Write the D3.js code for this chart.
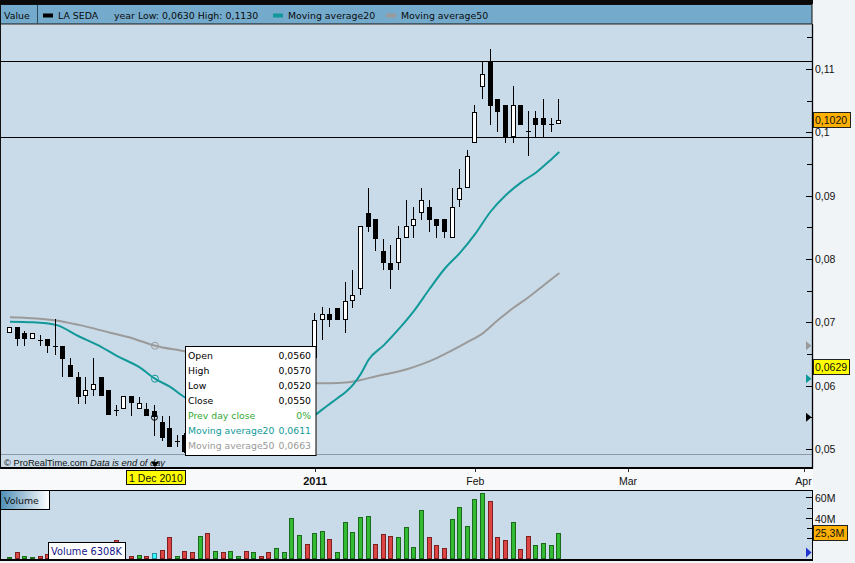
<!DOCTYPE html>
<html><head><meta charset="utf-8">
<script src="https://cdn.jsdelivr.net/npm/d3@7/dist/d3.min.js"></script>
<style>
body{margin:0;background:#f1f4f7;}
svg{display:block;}
.ax{font-family:"Liberation Sans",Arial,sans-serif;font-size:10.5px;fill:#111;}
.vd{font-family:"DejaVu Sans",Verdana,sans-serif;}
</style>
</head><body>
<svg id="c" width="855" height="563"></svg>
<script>
// ---------------- DATA ----------------
const opens  = [0.0683,0.0693,0.0683,0.0674,0.0672,0.0673,0.0663,0.0663,0.0633,0.0614,0.0584,0.0593,0.0614,0.0593,0.0562,0.0563,0.0583,0.0563,0.0563,0.0560,0.0542,0.0533,0.0512,
 0.0522,0.0500,0.0496,0.0518,0.0505,0.0514,0.0506,0.0517,0.0523,0.0514,0.0525,0.0518,0.0512,0.0527,0.0540,0.0592,0.0620,
 0.0644,0.0703,0.0713,0.0722,0.0703,0.0734,0.0752,0.0873,0.0863,0.0813,0.0793,0.0793,0.0833,0.0852,0.0872,0.0882,0.0863,0.0863,0.0833,0.0893,0.0912,
 0.0983,0.1072,0.1112,0.1052,0.1043,0.0992,0.1043,0.1002,0.1022,0.1022,0.1013,0.1013];
const highs  = [0.0693,0.0693,0.0687,0.0683,0.0680,0.0673,0.0705,0.0663,0.0644,0.0622,0.0614,0.0644,0.0614,0.0593,0.0569,0.0583,0.0583,0.0582,0.0572,0.0570,0.0552,0.0552,0.0522,
 0.0525,0.0505,0.0522,0.0525,0.0518,0.0516,0.0520,0.0526,0.0525,0.0528,0.0527,0.0520,0.0530,0.0545,0.0600,0.0630,0.0635,
 0.0714,0.0724,0.0722,0.0722,0.0763,0.0783,0.0852,0.0912,0.0863,0.0832,0.0822,0.0852,0.0893,0.0882,0.0912,0.0893,0.0863,0.0863,0.0912,0.0942,0.0972,
 0.1043,0.1112,0.1131,0.1052,0.1043,0.1073,0.1043,0.1033,0.1033,0.1052,0.1022,0.1052];
const lows   = [0.0683,0.0662,0.0662,0.0674,0.0662,0.0652,0.0648,0.0613,0.0613,0.0571,0.0571,0.0583,0.0584,0.0554,0.0552,0.0563,0.0552,0.0563,0.0552,0.0520,0.0513,0.0503,0.0503,
 0.0494,0.0493,0.0494,0.0500,0.0502,0.0503,0.0504,0.0512,0.0510,0.0512,0.0515,0.0508,0.0510,0.0524,0.0535,0.0585,0.0600,
 0.0640,0.0672,0.0692,0.0703,0.0683,0.0722,0.0743,0.0842,0.0813,0.0783,0.0752,0.0783,0.0833,0.0833,0.0862,0.0843,0.0833,0.0833,0.0833,0.0882,0.0912,
 0.0983,0.1052,0.1012,0.1001,0.0983,0.0983,0.1012,0.0962,0.0992,0.0992,0.1001,0.1013];
const closes = [0.0693,0.0674,0.0673,0.0683,0.0672,0.0662,0.0663,0.0642,0.0613,0.0582,0.0593,0.0603,0.0584,0.0554,0.0562,0.0583,0.0572,0.0572,0.0552,0.0550,0.0517,0.0503,0.0512,
 0.0496,0.0495,0.0518,0.0505,0.0514,0.0506,0.0517,0.0523,0.0514,0.0525,0.0518,0.0512,0.0527,0.0540,0.0592,0.0620,0.0610,
 0.0704,0.0713,0.0703,0.0703,0.0734,0.0743,0.0852,0.0851,0.0832,0.0793,0.0782,0.0833,0.0852,0.0863,0.0893,0.0862,0.0852,0.0842,0.0882,0.0912,0.0963,
 0.1032,0.1092,0.1042,0.1032,0.0992,0.1043,0.1012,0.1002,0.1012,0.1012,0.1013,0.1020];
// volume in millions
const volumes = [2,7,3,1.5,3,5,9,6,8,12,5,7,6,10,18,5,3,4,3,6.3,8.7,21,3,
 7.8,6.8,22,25,7.8,6.8,7.8,3,7.8,6.8,3,6.8,10.7,6.8,39.5,23,14.3,
 25.2,27.2,19.4,6.8,36,26.2,40.5,41.5,14.3,24.3,22.3,21,30.8,11.4,47.6,21,13.3,10.4,38.5,51,31.7,
 58,63.8,56,21,18.2,35.6,9.4,22,13.3,15.2,13.3,25.3];
const volumeUp = [1,0,1,1,0,0,1,0,0,0,1,1,0,0,0,1,0,1,0,0,0,0,1,
 0,0,1,0,1,0,1,1,0,1,0,0,1,1,1,1,0,
 1,1,0,1,1,1,1,1,0,0,0,1,1,1,1,0,0,0,1,1,1,
 1,1,0,0,0,1,0,0,1,1,1,1];
const ma20Index = [0,3,6,9,12,14,17,19,21,23,26,29,32,35,38,40,41,42,43,44,45,46,47,49,51,53,55,57,59,61,63,65,67,69,71,72];
const ma20Value = [0.0701,0.0700,0.0696,0.0678,0.0661,0.0647,0.0629,0.0611,0.0598,0.0581,0.0568,0.0558,0.0551,0.0547,0.0548,0.0554,0.0563,0.0572,0.0581,0.0590,0.0602,0.0619,0.0641,0.0664,0.0690,0.0719,0.0753,0.0785,0.0810,0.0840,0.0875,0.0901,0.0921,0.0937,0.0958,0.0969];
const ma50Index = [0,6,9,13,16,19,23,27,31,35,38,40,42,44,46,48,50,52,54,56,58,60,62,64,66,68,70,72];
const ma50Value = [0.0708,0.0703,0.0696,0.0684,0.0675,0.0663,0.0654,0.0643,0.0630,0.0618,0.0609,0.0604,0.0604,0.0605,0.0609,0.0615,0.0620,0.0626,0.0634,0.0644,0.0656,0.0669,0.0683,0.0704,0.0723,0.0740,0.0759,0.0778];
const levelLines = [0.1112, 0.0992];
const hoverIndex = 19;
const dateTickIndex  = [19, 40, 61, 81, 104];
const dateTickLabels = ["1 Dec 2010", "2011", "Feb", "Mar", "Apr"];
const priceTicks      = [0.05,0.06,0.07,0.08,0.09,0.10,0.11];
const priceTickLabels = ["0,05","0,06","0,07","0,08","0,09","0,1","0,11"];
const priceMinorTicks = [0.055,0.065,0.075,0.085,0.095,0.105,0.115];
const volTicks      = [60,40];
const volTickLabels = ["60M","40M"];
const volMinorTicks = [50,30,20];
const lastPrice = 0.1020, lastPriceLabel = "0,1020";
const cursorPrice = 0.0629, cursorPriceLabel = "0,0629";
const lastVolume = 25.3, lastVolumeLabel = "25,3M";
const tooltipLabels = ["Open","High","Low","Close","Prev day close","Moving average20","Moving average50"];
const tooltipValues = ["0,0560","0,0570","0,0520","0,0550","0%","0,0611","0,0663"];
const headerTitle = "LA SEDA";
const headerInfo = "year Low: 0,0630 High: 0,1130";
const legendMA = ["Moving average20","Moving average50"];
const volTooltip = "Volume 6308K";

// ---------------- DRAW ----------------
const svg = d3.select("#c");
const x = d3.scaleLinear().domain([0,104]).range([10,803.5]);
const y = d3.scaleLinear().domain([0.05,0.11]).range([449,69]);
const yv = d3.scaleLinear().domain([0,60]).range([559,497.3]);
const PL=1, PR=812, PT=25, PB=454;
const teal="#11999a", gray="#9a9a9a", bg="#c9dbe8";

svg.append("rect").attr("width",855).attr("height",563).attr("fill","#f1f4f7");
// header
svg.append("rect").attr("x",0).attr("y",0).attr("width",813).attr("height",4).attr("fill","#0a0a0a");
svg.append("rect").attr("x",0.5).attr("y",4.5).attr("width",811.5).attr("height",19.5).attr("fill","#74aacb").attr("stroke","#111");
svg.append("line").attr("x1",37.5).attr("x2",37.5).attr("y1",5).attr("y2",24).attr("stroke","#2d4a5c");
const hdr = svg.append("g").attr("class","vd").style("font-size","9.4px").attr("fill","#0b0b0b");
hdr.append("text").attr("x",4).attr("y",19).text("Value");
svg.append("rect").attr("x",43).attr("y",13.5).attr("width",10).attr("height",4).attr("fill","#000");
hdr.append("text").attr("x",58).attr("y",19).text(headerTitle);
hdr.append("text").attr("x",114).attr("y",19).text(headerInfo);
svg.append("rect").attr("x",273).attr("y",13.5).attr("width",10).attr("height",4).attr("fill",teal);
hdr.append("text").attr("x",288).attr("y",19).text(legendMA[0]);
svg.append("rect").attr("x",386).attr("y",13.5).attr("width",10).attr("height",4).attr("fill",gray);
hdr.append("text").attr("x",401).attr("y",19).text(legendMA[1]);

// plot background
svg.append("rect").attr("x",PL).attr("y",PT).attr("width",PR-PL).attr("height",468-PT).attr("fill",bg);
svg.append("defs").append("clipPath").attr("id","clip").append("rect").attr("x",PL).attr("y",PT).attr("width",PR-PL).attr("height",PB-PT);
const plot = svg.append("g").attr("clip-path","url(#clip)");

// level lines
plot.selectAll(".lvl").data(levelLines).join("line")
  .attr("x1",PL).attr("x2",PR).attr("y1",d=>Math.round(y(d))+0.5).attr("y2",d=>Math.round(y(d))+0.5)
  .attr("stroke","#000").attr("stroke-width",1);

// moving averages
const lineGen = d3.line().x(d=>x(d[0])).y(d=>y(d[1])).curve(d3.curveMonotoneX);
plot.append("path").datum(ma50Index.map((d,i)=>[d,ma50Value[i]])).attr("d",lineGen)
  .attr("fill","none").attr("stroke",gray).attr("stroke-width",2);
plot.append("path").datum(ma20Index.map((d,i)=>[d,ma20Value[i]])).attr("d",lineGen)
  .attr("fill","none").attr("stroke",teal).attr("stroke-width",2);

// candles
const idx = d3.range(closes.length);
const cg = plot.append("g");
idx.forEach(i=>{
  const cx = Math.round(x(i));
  const yh = Math.round(y(highs[i])), yl = Math.round(y(lows[i]));
  cg.append("line").attr("x1",cx-0.5).attr("x2",cx-0.5).attr("y1",yh).attr("y2",yl).attr("stroke","#000").attr("stroke-width",1);
  const yo = Math.round(y(opens[i])), yc = Math.round(y(closes[i]));
  const top = Math.min(yo,yc), bot = Math.max(yo,yc);
  if (bot-top < 1) {
    cg.append("line").attr("x1",cx-3).attr("x2",cx+2).attr("y1",top+0.5).attr("y2",top+0.5).attr("stroke","#000");
  } else {
    const up = closes[i] > opens[i];
    cg.append("rect").attr("x",cx-2.5).attr("y",top+0.5).attr("width",4).attr("height",bot-top-1)
      .attr("fill",up?"#fff":"#000").attr("stroke","#000").attr("stroke-width",1);
  }
});

// hover markers
plot.append("circle").attr("cx",x(hoverIndex)).attr("cy",y(ma50Value[ma50Index.indexOf(hoverIndex)])).attr("r",3.5).attr("fill","none").attr("stroke",gray).attr("stroke-width",1);
plot.append("circle").attr("cx",x(hoverIndex)).attr("cy",y(ma20Value[ma20Index.indexOf(hoverIndex)])).attr("r",3.5).attr("fill","none").attr("stroke",teal).attr("stroke-width",1);
plot.append("circle").attr("cx",x(hoverIndex)-0.5).attr("cy",y(closes[hoverIndex])).attr("r",3).attr("fill","none").attr("stroke","#000").attr("stroke-width",1);

// separator & footer text
svg.append("line").attr("x1",PL).attr("x2",PR).attr("y1",454.5).attr("y2",454.5).attr("stroke","#8e9ba7");
const ft = svg.append("text").attr("x",4).attr("y",466).style("font-family","Liberation Sans, Arial, sans-serif").style("font-size","9.3px").attr("fill","#111");
ft.append("tspan").text("\u00A9 ProRealTime.com  ");
ft.append("tspan").attr("font-style","italic").text(" Data is end of day");

// borders
svg.append("rect").attr("x",0).attr("y",467).attr("width",813).attr("height",2).attr("fill","#000");
svg.append("line").attr("x1",0.5).attr("x2",0.5).attr("y1",4).attr("y2",469).attr("stroke","#111");
svg.append("line").attr("x1",812.5).attr("x2",812.5).attr("y1",24).attr("y2",469).attr("stroke","#000").attr("stroke-width",1.3);
// date pointer
svg.append("path").attr("d",`M${x(hoverIndex)-4},462 L${x(hoverIndex)+4},462 L${x(hoverIndex)},467 Z`).attr("fill","#000");

// price axis
const pax = svg.append("g");
pax.selectAll(".mt").data(priceTicks).join("line")
  .attr("x1",806).attr("x2",812).attr("y1",d=>Math.round(y(d))+0.5).attr("y2",d=>Math.round(y(d))+0.5).attr("stroke","#000");
pax.selectAll(".nt").data(priceMinorTicks).join("line")
  .attr("x1",807).attr("x2",812).attr("y1",d=>Math.round(y(d))+0.5).attr("y2",d=>Math.round(y(d))+0.5).attr("stroke","#000");
pax.selectAll(".tl").data(priceTicks).join("text").attr("class","ax")
  .attr("x",815).attr("y",d=>y(d)+4).text((d,i)=>priceTickLabels[i]);

// value boxes
function valBox(v, label, fill, w){
  const cy = Math.round(y(v));
  svg.append("rect").attr("x",813.5).attr("y",cy-7.5).attr("width",w).attr("height",15).attr("fill",fill).attr("stroke","#222");
  svg.append("text").attr("class","ax").attr("x",815).attr("y",cy+4).text(label);
}
valBox(lastPrice,lastPriceLabel,"#ffb000",37);
valBox(cursorPrice,cursorPriceLabel,"#ffff00",36);
// triangles
function tri(v, col){
  const cy = y(v);
  svg.append("path").attr("d",`M806,${cy-4.5} L811.5,${cy} L806,${cy+4.5} Z`).attr("fill",col);
}
tri(0.0663, gray); tri(0.0611, teal); tri(closes[hoverIndex], "#000");

// tooltip
const tt = svg.append("g").attr("class","vd").style("font-size","9.3px");
tt.append("rect").attr("x",185.5).attr("y",346.5).attr("width",130.5).attr("height",109).attr("fill","#fff").attr("stroke","#000");
const ttCols = ["#000","#000","#000","#000","#33aa33",teal,"#999"];
tooltipLabels.forEach((l,i)=>{
  tt.append("text").attr("x",188).attr("y",359+15*i).attr("fill",ttCols[i]).text(l);
  tt.append("text").attr("x",311).attr("y",359+15*i).attr("text-anchor","end").attr("fill",ttCols[i]).text(tooltipValues[i]);
});

// x axis strip
svg.append("rect").attr("x",0).attr("y",469).attr("width",813).attr("height",21).attr("fill","#f7f9fb");
dateTickIndex.forEach((d,i)=>{
  const px = Math.round(x(d))+0.5;
  svg.append("line").attr("x1",px).attr("x2",px).attr("y1",469).attr("y2",472).attr("stroke","#333");
  if (i===0){
    svg.append("rect").attr("x",126.5).attr("y",470.5).attr("width",59).attr("height",14).attr("fill","#ffff00").attr("stroke","#111");
    svg.append("text").attr("class","ax").attr("x",x(d)+1).attr("y",481.5).attr("text-anchor","middle").text(dateTickLabels[i]);
  } else {
    svg.append("text").attr("class","ax").attr("x",x(d)).attr("y",485).attr("text-anchor","middle")
      .style("font-weight",dateTickLabels[i]==="2011"?"bold":"normal").style("font-size",dateTickLabels[i]==="2011"?"11px":null)
      .text(dateTickLabels[i]);
  }
});

// volume panel
svg.append("rect").attr("x",0.5).attr("y",490.5).attr("width",812).attr("height",69).attr("fill",bg).attr("stroke","#000");
const vg = svg.append("g");
idx.forEach(i=>{
  const cx = Math.round(x(i));
  const top = Math.round(yv(volumes[i]));
  let fill = volumeUp[i] ? "#33bb33" : "#dd4444";
  let stroke = volumeUp[i] ? "#1c6a1c" : "#7e2020";
  if (i===hoverIndex){ fill="#33ffff"; stroke="#2a8f9a"; }
  vg.append("rect").attr("x",cx-2.5).attr("y",top+0.5).attr("width",4).attr("height",Math.max(559-top-1,1))
    .attr("fill",fill).attr("stroke",stroke).attr("stroke-width",1);
});
svg.append("rect").attr("x",0).attr("y",559).attr("width",813).attr("height",2).attr("fill","#000");
// Volume label box
const grad = svg.append("defs").append("linearGradient").attr("id","vgrad");
grad.append("stop").attr("offset","0%").attr("stop-color","#4e8db6");
grad.append("stop").attr("offset","100%").attr("stop-color","#ffffff");
svg.append("rect").attr("x",0.5).attr("y",490.5).attr("width",49).attr("height",19).attr("fill","url(#vgrad)").attr("stroke","#000");
svg.append("text").attr("class","vd").style("font-size","9.4px").attr("x",4).attr("y",504).attr("fill","#111").text("Volume");
// volume tooltip
svg.append("rect").attr("x",48.5).attr("y",542.5).attr("width",77).attr("height",17).attr("fill","#fff").attr("stroke","#000");
svg.append("text").attr("class","vd").style("font-size","9.8px").attr("x",51).attr("y",555).attr("fill","#16168a").text(volTooltip);
// volume axis
volTicks.forEach((t,i)=>{
  const py = Math.round(yv(t))+0.5;
  svg.append("line").attr("x1",806).attr("x2",812).attr("y1",py).attr("y2",py).attr("stroke","#000");
  svg.append("text").attr("class","ax").attr("x",815).attr("y",py+4).text(volTickLabels[i]);
});
volMinorTicks.forEach(t=>{
  const py = Math.round(yv(t))+0.5;
  svg.append("line").attr("x1",807).attr("x2",812).attr("y1",py).attr("y2",py).attr("stroke","#000");
});
{
  const cy = Math.round(yv(lastVolume));
  svg.append("rect").attr("x",813.5).attr("y",cy-7.5).attr("width",34).attr("height",15).attr("fill","#ffb000").attr("stroke","#222");
  svg.append("text").attr("class","ax").attr("x",815).attr("y",cy+4).text(lastVolumeLabel);
  const hy = yv(volumes[hoverIndex]);
  svg.append("path").attr("d",`M806,${hy-5} L811.5,${hy} L806,${hy+5} Z`).attr("fill","#2233cc");
}
</script>
</body></html>
